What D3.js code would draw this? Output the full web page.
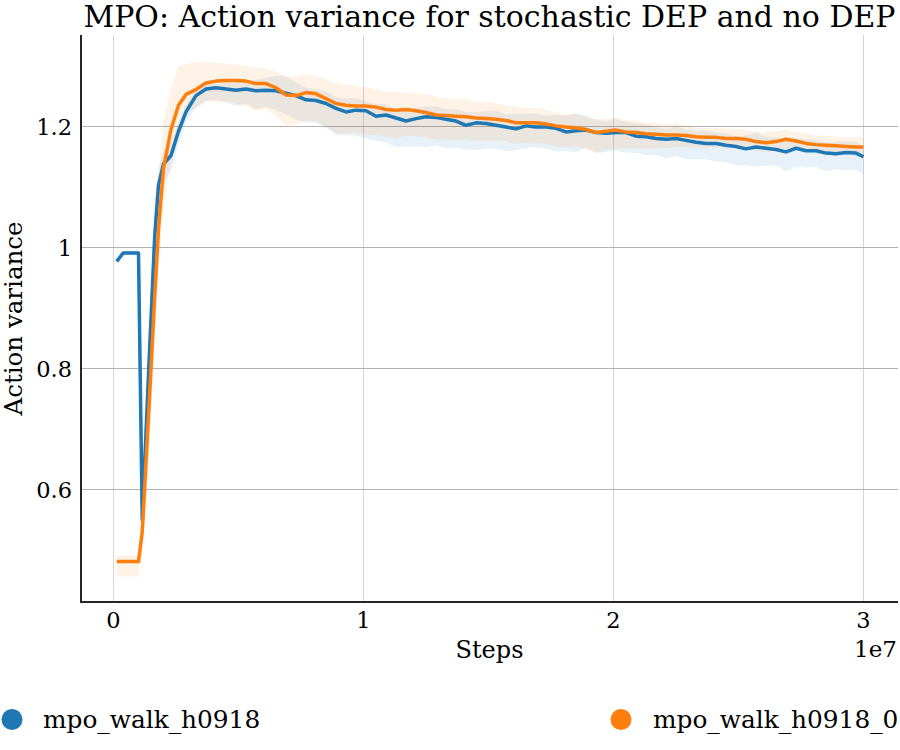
<!DOCTYPE html>
<html>
<head>
<meta charset="utf-8">
<script src="https://cdn.jsdelivr.net/npm/d3@7"></script>
<style>
  body { margin: 0; background: #fff; }
  text { font-family: "DejaVu Serif", serif; fill: #000; }
</style>
</head>
<body>
<div id="chart"></div>
<script>
// steps in millions
const stepsM = [0.13, 0.39, 0.65, 1.0, 1.15, 1.4, 1.65, 1.8, 2.0, 2.3, 2.6, 2.9, 3.3, 3.7, 4.1,
  4.5, 4.9, 5.3, 5.7, 6.1, 6.5, 6.9, 7.3, 7.7, 8.1,
  8.5, 8.9, 9.3, 9.7, 10.1, 10.5, 10.9, 11.3, 11.7, 12.1,
  12.5, 12.9, 13.3, 13.7, 14.1, 14.5, 14.9, 15.3, 15.7, 16.1,
  16.5, 16.9, 17.3, 17.7, 18.1, 18.5, 18.9, 19.3, 19.7, 20.1,
  20.5, 20.9, 21.3, 21.7, 22.1, 22.5, 22.9, 23.3, 23.7, 24.1,
  24.5, 24.9, 25.3, 25.7, 26.1, 26.5, 26.9, 27.3, 27.7, 28.1,
  28.5, 28.9, 29.3, 29.7, 30.0];

const seriesNames = ["mpo_walk_h0918", "mpo_walk_h0918_0"];
const seriesColors = ["#1f77b4", "#ff7f0e"];

const blueMean = [0.977, 0.991, 0.991, 0.991, 0.55, 0.79, 1.02, 1.103, 1.138, 1.152, 1.192, 1.224, 1.251, 1.262, 1.264,
  1.262, 1.260, 1.262, 1.259, 1.260, 1.259, 1.255, 1.251, 1.244, 1.243,
  1.238, 1.230, 1.224, 1.227, 1.226, 1.217, 1.219, 1.214, 1.209, 1.213,
  1.216, 1.215, 1.212, 1.209, 1.202, 1.206, 1.205, 1.202, 1.199, 1.196,
  1.201, 1.199, 1.199, 1.197, 1.191, 1.193, 1.194, 1.190, 1.189, 1.190,
  1.190, 1.184, 1.183, 1.180, 1.179, 1.180, 1.177, 1.174, 1.172, 1.172,
  1.169, 1.167, 1.163, 1.166, 1.164, 1.162, 1.158, 1.164, 1.160, 1.160,
  1.156, 1.155, 1.157, 1.156, 1.150];

const orangeMean = [0.481, 0.481, 0.481, 0.481, 0.53, 0.72, 0.92, 1.03, 1.131, 1.195, 1.235, 1.253, 1.261, 1.272, 1.275,
  1.276, 1.276, 1.275, 1.271, 1.271, 1.264, 1.252, 1.251, 1.256, 1.254,
  1.246, 1.238, 1.235, 1.234, 1.234, 1.232, 1.228, 1.227, 1.228, 1.226,
  1.223, 1.219, 1.218, 1.217, 1.216, 1.214, 1.213, 1.212, 1.210, 1.206,
  1.206, 1.206, 1.204, 1.201, 1.199, 1.198, 1.195, 1.190, 1.192, 1.194,
  1.191, 1.190, 1.188, 1.187, 1.186, 1.186, 1.185, 1.183, 1.182, 1.182,
  1.180, 1.180, 1.179, 1.175, 1.173, 1.175, 1.179, 1.176, 1.172, 1.170,
  1.169, 1.168, 1.167, 1.166, 1.166];

// band spread below / above the mean
const blueDown = [0.004, 0.004, 0.004, 0.004, 0.03, 0.06, 0.05, 0.04, 0.03, 0.025, 0.02, 0.018, 0.02, 0.02, 0.02,
  0.022, 0.026, 0.024, 0.03, 0.028, 0.032, 0.035, 0.04, 0.038, 0.036,
  0.04, 0.044, 0.038, 0.042, 0.046, 0.04, 0.045, 0.048, 0.042, 0.046,
  0.05, 0.046, 0.048, 0.044, 0.04, 0.045, 0.042, 0.038, 0.04, 0.035,
  0.037, 0.033, 0.036, 0.038, 0.032, 0.035, 0.03, 0.034, 0.031, 0.03,
  0.033, 0.028, 0.03, 0.027, 0.032, 0.029, 0.031, 0.028, 0.026, 0.03,
  0.028, 0.031, 0.027, 0.033, 0.029, 0.026, 0.032, 0.03, 0.028, 0.027,
  0.03, 0.026, 0.029, 0.028, 0.03];
const blueUp = [0.004, 0.004, 0.004, 0.004, 0.03, 0.06, 0.05, 0.03, 0.02, 0.02, 0.015, 0.012, 0.012, 0.012, 0.012,
  0.012, 0.015, 0.014, 0.018, 0.02, 0.025, 0.028, 0.022, 0.02, 0.018,
  0.02, 0.018, 0.022, 0.02, 0.016, 0.02, 0.018, 0.015, 0.02, 0.018,
  0.016, 0.019, 0.017, 0.02, 0.022, 0.018, 0.02, 0.024, 0.021, 0.025,
  0.02, 0.023, 0.019, 0.022, 0.027, 0.029, 0.024, 0.021, 0.02, 0.022,
  0.018, 0.021, 0.02, 0.019, 0.017, 0.02, 0.018, 0.019, 0.021, 0.018,
  0.02, 0.017, 0.022, 0.024, 0.018, 0.02, 0.021, 0.017, 0.019, 0.018,
  0.017, 0.02, 0.018, 0.019, 0.016];
const orangeDown = [0.025, 0.025, 0.025, 0.025, 0.04, 0.08, 0.08, 0.07, 0.06, 0.05, 0.035, 0.03, 0.03, 0.03, 0.035,
  0.035, 0.038, 0.042, 0.045, 0.043, 0.047, 0.05, 0.048, 0.046, 0.045,
  0.047, 0.049, 0.046, 0.044, 0.048, 0.046, 0.045, 0.047, 0.043, 0.042,
  0.04, 0.041, 0.039, 0.04, 0.037, 0.038, 0.036, 0.035, 0.034, 0.035,
  0.033, 0.034, 0.032, 0.034, 0.033, 0.031, 0.032, 0.033, 0.031, 0.03,
  0.028, 0.026, 0.025, 0.023, 0.022, 0.02, 0.019, 0.018, 0.017, 0.016,
  0.016, 0.015, 0.016, 0.014, 0.015, 0.014, 0.015, 0.013, 0.014, 0.013,
  0.012, 0.013, 0.012, 0.012, 0.01];
const orangeUp = [0.01, 0.01, 0.01, 0.01, 0.04, 0.08, 0.08, 0.08, 0.08, 0.07, 0.065, 0.05, 0.045, 0.035, 0.03,
  0.028, 0.026, 0.025, 0.027, 0.024, 0.026, 0.03, 0.032, 0.03, 0.029,
  0.032, 0.034, 0.035, 0.033, 0.031, 0.03, 0.029, 0.03, 0.028, 0.029,
  0.03, 0.031, 0.029, 0.028, 0.03, 0.027, 0.028, 0.026, 0.025, 0.027,
  0.024, 0.025, 0.023, 0.022, 0.021, 0.023, 0.02, 0.022, 0.021, 0.02,
  0.019, 0.02, 0.018, 0.019, 0.017, 0.018, 0.016, 0.015, 0.016, 0.015,
  0.017, 0.016, 0.015, 0.016, 0.018, 0.017, 0.016, 0.015, 0.016, 0.015,
  0.016, 0.015, 0.016, 0.016, 0.016];

const xTicks = [0, 1e7, 2e7, 3e7];
const xTickLabels = ["0", "1", "2", "3"];
const yTicks = [0.6, 0.8, 1.0, 1.2];
const yTickLabels = ["0.6", "0.8", "1", "1.2"];

const width = 900, height = 750;
const margin = { top: 35, right: 2, bottom: 148, left: 81 };

const svg = d3.select("#chart").append("svg")
  .attr("width", width)
  .attr("height", height);

const x = d3.scaleLinear()
  .domain([-0.13e7, 3.138e7])
  .range([margin.left, width - margin.right]);
const y = d3.scaleLinear()
  .domain([0.414, 1.3512])
  .range([height - margin.bottom, margin.top]);

// grid
svg.append("g")
  .selectAll("line")
  .data(xTicks)
  .join("line")
  .attr("x1", d => x(d)).attr("x2", d => x(d))
  .attr("y1", margin.top).attr("y2", height - margin.bottom)
  .attr("stroke", "#d4d4d4").attr("stroke-width", 1);
svg.append("g")
  .selectAll("line")
  .data(yTicks)
  .join("line")
  .attr("x1", margin.left).attr("x2", width - margin.right)
  .attr("y1", d => y(d)).attr("y2", d => y(d))
  .attr("stroke", "#b0b0b0").attr("stroke-width", 1);

const series = [
  { mean: blueMean, down: blueDown, up: blueUp },
  { mean: orangeMean, down: orangeDown, up: orangeUp },
];

const area = d3.area()
  .x(d => x(d.s))
  .y0(d => y(d.lo))
  .y1(d => y(d.hi));
const line = d3.line()
  .x(d => x(d.s))
  .y(d => y(d.v));

series.forEach((sr, i) => {
  const pts = stepsM.map((s, j) => ({
    s: s * 1e6,
    v: sr.mean[j],
    lo: sr.mean[j] - sr.down[j],
    hi: sr.mean[j] + sr.up[j],
  }));
  svg.append("path")
    .datum(pts)
    .attr("d", area)
    .attr("fill", seriesColors[i])
    .attr("fill-opacity", 0.1);
  sr.pts = pts;
});

series.forEach((sr, i) => {
  svg.append("path")
    .datum(sr.pts)
    .attr("d", line)
    .attr("fill", "none")
    .attr("stroke", seriesColors[i])
    .attr("stroke-width", 3.5)
    .attr("stroke-linejoin", "round");
});

// spines
svg.append("line")
  .attr("x1", margin.left).attr("x2", margin.left)
  .attr("y1", margin.top).attr("y2", height - margin.bottom + 1)
  .attr("stroke", "#262626").attr("stroke-width", 2);
svg.append("line")
  .attr("x1", margin.left - 1).attr("x2", width - margin.right)
  .attr("y1", height - margin.bottom).attr("y2", height - margin.bottom)
  .attr("stroke", "#262626").attr("stroke-width", 2);

// tick labels
svg.append("g")
  .selectAll("text")
  .data(xTicks)
  .join("text")
  .attr("x", d => x(d))
  .attr("y", 628)
  .attr("text-anchor", "middle")
  .attr("font-size", 22.5)
  .text((d, i) => xTickLabels[i]);
svg.append("g")
  .selectAll("text")
  .data(yTicks)
  .join("text")
  .attr("x", 72)
  .attr("y", d => y(d))
  .attr("dy", "0.36em")
  .attr("text-anchor", "end")
  .attr("font-size", 22.5)
  .text((d, i) => yTickLabels[i]);

svg.append("text")
  .attr("x", 897).attr("y", 657)
  .attr("text-anchor", "end")
  .attr("font-size", 23)
  .text("1e7");

// labels
svg.append("text")
  .attr("x", (margin.left + width - margin.right) / 2)
  .attr("y", 27)
  .attr("text-anchor", "middle")
  .attr("font-size", 29)
  .attr("textLength", 812)
  .attr("lengthAdjust", "spacingAndGlyphs")
  .text("MPO: Action variance for stochastic DEP and no DEP");
svg.append("text")
  .attr("x", (margin.left + width - margin.right) / 2)
  .attr("y", 658)
  .attr("text-anchor", "middle")
  .attr("font-size", 24)
  .text("Steps");
svg.append("text")
  .attr("transform", `translate(22, ${(margin.top + height - margin.bottom) / 2}) rotate(-90)`)
  .attr("text-anchor", "middle")
  .attr("font-size", 24.5)
  .text("Action variance");

// legend
const legendPos = [{ cx: 12, tx: 43 }, { cx: 621, tx: 653 }];
seriesNames.forEach((name, i) => {
  svg.append("circle")
    .attr("cx", legendPos[i].cx).attr("cy", 719.5)
    .attr("r", 10.5)
    .attr("fill", seriesColors[i]);
  svg.append("text")
    .attr("x", legendPos[i].tx).attr("y", 728)
    .attr("font-size", 24.8)
    .text(name);
});
</script>
</body>
</html>
